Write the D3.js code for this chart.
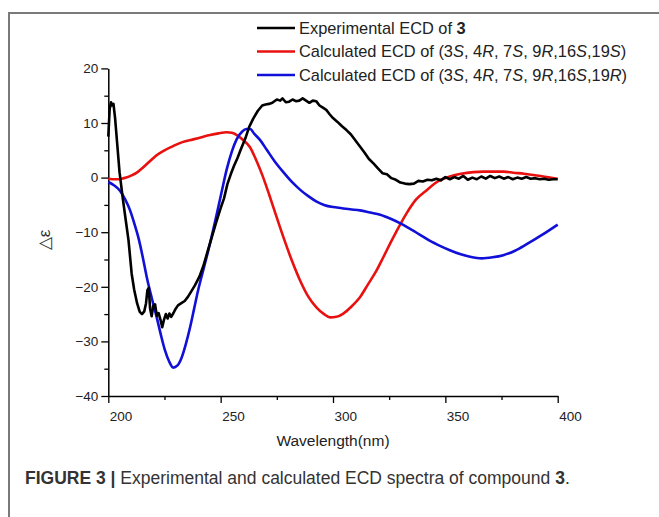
<!DOCTYPE html>
<html>
<head>
<meta charset="utf-8">
<script src="https://cdn.jsdelivr.net/npm/d3@7.9.0/dist/d3.min.js"></script>
<style>
  body { margin: 0; background: #fff; }
  svg { display: block; font-family: "Liberation Sans", Arial, sans-serif; }
</style>
</head>
<body>
<svg id="chart" width="659" height="517"></svg>
<script>
// wavelength (nm), delta epsilon
const experimental = [
  [200, 7.5], [200.6, 12.5], [201.2, 13.8], [201.8, 13.2], [202.3, 13.5], [203, 11], [204, 6],
  [205, 1], [206.5, -4], [208, -8.5], [209, -11.5], [210.4, -17.6], [211.5, -20.5], [212.8, -23],
  [214, -24.6], [215, -25], [216, -24.5], [216.8, -23], [217.4, -20.6], [218, -20.2], [218.6, -24],
  [219.3, -25.4], [220, -23.5], [220.8, -23.2], [221.6, -25.3], [222.4, -24.8], [223.2, -26],
  [224, -27.4], [224.8, -26], [225.6, -25], [226.4, -25.8], [227.2, -24.9], [228, -25.5],
  [229, -24.8], [230, -24], [231, -23.4], [232.5, -23], [234, -22.6], [235.5, -21.8], [237, -20.8],
  [238.6, -19.7], [240.5, -18.2], [242.3, -16.2], [244, -13.8], [246, -11], [248, -8.2],
  [250, -5.6], [251.5, -3.8], [253, -1.2], [254.5, 0.6], [256, 2.2], [257.5, 3.6], [259, 5.2],
  [261, 7.2], [262.7, 9.3], [264.5, 10.8], [266.5, 12.2], [268.5, 13.2], [270, 13.4], [271.5, 13.5],
  [273, 13.7], [275, 14.3], [276.5, 14.1], [277.5, 14.5], [279, 13.8], [280.5, 13.9], [282, 14.3],
  [283.5, 14], [285, 14.1], [286.5, 14.5], [288, 14.1], [289.5, 13.7], [291, 14.1], [292.5, 14],
  [294, 13.2], [295.5, 12.8], [297, 12.4], [298.5, 11.6], [300, 10.9], [302, 10.2], [304, 9.4],
  [306, 8.7], [308, 7.9], [310, 6.8], [312, 5.7], [314, 4.6], [316, 3.4], [318, 2.6], [320, 1.7],
  [322, 0.8], [324, 0.6], [326, -0.1], [328, -0.4], [330, -0.9], [332, -1.1], [334, -1.2],
  [336, -1.1], [338, -0.6], [340, -0.7], [342, -0.4], [344, -0.5], [346, -0.2], [348, -0.5],
  [350, 0.1], [352, -0.3], [354, 0.1], [356, -0.2], [358, 0.3], [360, -0.4], [362, 0],
  [364, -0.3], [366, 0.2], [368, -0.2], [370, 0.3], [372, -0.1], [374, 0.2], [376, -0.2],
  [378, 0.1], [380, -0.3], [382, 0], [384, -0.2], [386, 0.1], [388, -0.2], [390, -0.1],
  [392, -0.3], [394, -0.2], [396, -0.4], [398, -0.3], [400, -0.3]
];

const calc19S = [
  [200, -0.2], [203, -0.3], [206, -0.2], [208, 0], [210.4, 0.4], [213, 1], [215.6, 1.9],
  [218.5, 3], [221.5, 4.1], [225, 5], [229, 5.8], [233, 6.5], [237.8, 7], [241.5, 7.4],
  [245.3, 7.8], [249, 8.1], [252.7, 8.3], [255, 8.2], [257.2, 7.8], [260, 6.9], [263, 5.6],
  [265.5, 3.5], [268.5, 0.5], [271.5, -3], [274.4, -6.6], [278, -11], [281.6, -15.1],
  [285.3, -18.8], [289, -21.8], [292.7, -23.8], [296, -25], [298.7, -25.6], [301.5, -25.5],
  [304.6, -24.9], [308, -23.7], [312, -21.9], [315.5, -19.6], [319.4, -17], [322.5, -14.5],
  [325.4, -12.1], [328.3, -9.8], [332.8, -6.5], [337, -4], [341.7, -2.3], [347, -0.6],
  [352, 0.2], [357, 0.7], [362.5, 1], [367, 1.1], [371.4, 1.1], [376, 1.1], [380.3, 0.9],
  [385, 0.7], [390.7, 0.4], [395, 0.1], [400, -0.2]
];

const calc19R = [
  [200, -0.8], [202.5, -1.4], [205.2, -2.4], [207.5, -4], [209.7, -6], [211.5, -8.3],
  [213.4, -11], [215.2, -14.3], [217.1, -18.2], [219.3, -22], [221.5, -25.5], [223.4, -28.8],
  [225.2, -31.6], [227, -33.6], [228.9, -34.8], [230.8, -34.4], [232.7, -32.9], [234.5, -30.5],
  [236.4, -27.4], [238.2, -24], [240, -20.6], [241.9, -17.5], [243.8, -14.5], [246, -10.8],
  [248.2, -6.8], [250.5, -2.5], [252.7, 1.5], [255, 4.8], [257.1, 7], [259.5, 8.4],
  [261.5, 8.9], [263.1, 8.9], [265, 8], [267.5, 6.9], [270.5, 5.1], [274, 3], [277.9, 1],
  [281.5, -0.7], [285.3, -2.2], [289, -3.4], [292.7, -4.4], [296, -5], [300, -5.4],
  [304, -5.6], [307.6, -5.8], [312, -6], [316.5, -6.4], [321, -6.8], [325.4, -7.5], [330, -8.4],
  [334.3, -9.4], [338.8, -10.5], [343.2, -11.6], [347.6, -12.5], [352, -13.3], [356.5, -14],
  [361, -14.5], [366.2, -14.8], [371, -14.6], [375.8, -14.2], [381, -13.4], [386.2, -12.2],
  [393, -10.5], [400, -8.6]
];

const xMajor = [200, 250, 300, 350, 400];
const xMinor = [225, 275, 325, 375];
const yMajor = [-40, -30, -20, -10, 0, 10, 20];
const yMinor = [-35, -25, -15, -5, 5, 15];

// legend parts: [text, style]
const legendRows = [
  { color: '#000000', parts: [['Experimental ECD of ', ''], ['3', 'b']] },
  { color: '#e8110f', parts: [['Calculated ECD of (3', ''], ['S', 'i'], [', 4', ''], ['R', 'i'], [', 7', ''], ['S', 'i'], [', 9', ''], ['R', 'i'], [',16', ''], ['S', 'i'], [',19', ''], ['S', 'i'], [')', '']] },
  { color: '#1010d8', parts: [['Calculated ECD of (3', ''], ['S', 'i'], [', 4', ''], ['R', 'i'], [', 7', ''], ['S', 'i'], [', 9', ''], ['R', 'i'], [',16', ''], ['S', 'i'], [',19', ''], ['R', 'i'], [')', '']] }
];

const svg = d3.select('#chart');

// figure frame (left and top edges only visible)
svg.append('path')
  .attr('d', 'M9,517 L9,13 L659,13')
  .attr('fill', 'none')
  .attr('stroke', '#7a7a7a')
  .attr('stroke-width', 2);

const x = d3.scaleLinear().domain([200, 400]).range([108.3, 557.7]);
const y = d3.scaleLinear().domain([-40, 20]).range([396, 68.4]);

function styleAxis(g) {
  g.attr('font-size', 13.5).attr('font-family', '"Liberation Sans", Arial, sans-serif');
  g.select('.domain').attr('stroke', '#000').attr('stroke-width', 1.5);
  g.selectAll('.tick line').attr('stroke', '#000').attr('stroke-width', 1.3);
  g.selectAll('.tick text').attr('fill', '#222');
}

// minor ticks first
svg.append('g')
  .attr('transform', `translate(0,${y(-40)})`)
  .call(d3.axisBottom(x).tickValues(xMinor).tickFormat('').tickSize(4).tickSizeOuter(0))
  .call(g => g.select('.domain').remove())
  .call(styleAxis);

svg.append('g')
  .attr('transform', `translate(${x(200)},0)`)
  .call(d3.axisLeft(y).tickValues(yMinor).tickFormat('').tickSize(4).tickSizeOuter(0))
  .call(g => g.select('.domain').remove())
  .call(styleAxis);

const xAxis = svg.append('g')
  .attr('transform', `translate(0,${y(-40)})`)
  .call(d3.axisBottom(x).tickValues(xMajor).tickSize(7).tickSizeOuter(0))
  .call(styleAxis);
xAxis.selectAll('.tick text').attr('text-anchor', 'start').attr('x', 1).attr('y', 15);

svg.append('g')
  .attr('transform', `translate(${x(200)},0)`)
  .call(d3.axisLeft(y).tickValues(yMajor).tickSize(7).tickSizeOuter(0))
  .call(styleAxis);

// axis titles
svg.append('text')
  .attr('x', (x(200) + x(400)) / 2)
  .attr('y', 446)
  .attr('text-anchor', 'middle')
  .attr('fill', '#222')
  .style('font-size', '15.5px')
  .text('Wavelength(nm)');

svg.append('text')
  .attr('transform', 'translate(50,240) rotate(-90)')
  .attr('text-anchor', 'middle')
  .attr('fill', '#333')
  .style('font-size', '17px')
  .text('△ε');

// spectra
const line = d3.line().x(d => x(d[0])).y(d => y(d[1]));
const smooth = d3.line().x(d => x(d[0])).y(d => y(d[1])).curve(d3.curveMonotoneX);

svg.append('path').datum(calc19S)
  .attr('d', smooth).attr('fill', 'none')
  .attr('stroke', '#e8110f').attr('stroke-width', 2.6);

svg.append('path').datum(calc19R)
  .attr('d', smooth).attr('fill', 'none')
  .attr('stroke', '#1010d8').attr('stroke-width', 2.6);

svg.append('path').datum(experimental)
  .attr('d', line).attr('fill', 'none')
  .attr('stroke', '#000').attr('stroke-width', 2.6)
  .attr('stroke-linejoin', 'round');

// legend
const legend = svg.append('g');
legendRows.forEach((row, i) => {
  const ly = 28 + i * 23.5;
  legend.append('line')
    .attr('x1', 257).attr('x2', 295)
    .attr('y1', ly).attr('y2', ly)
    .attr('stroke', row.color).attr('stroke-width', 2.6);
  const t = legend.append('text')
    .attr('x', 299).attr('y', ly + 5.5)
    .attr('fill', '#222')
    .style('font-size', '16.4px');
  row.parts.forEach(([s, st]) => {
    t.append('tspan')
      .style('font-weight', st === 'b' ? 'bold' : null)
      .style('font-style', st === 'i' ? 'italic' : null)
      .text(s);
  });
});

// caption
const cap = svg.append('text')
  .attr('x', 25).attr('y', 484)
  .attr('fill', '#333')
  .style('font-size', '17.5px');
cap.append('tspan').style('font-weight', 'bold').text('FIGURE 3 | ');
cap.append('tspan').text('Experimental and calculated ECD spectra of compound ');
cap.append('tspan').style('font-weight', 'bold').text('3');
cap.append('tspan').text('.');
</script>
</body>
</html>
